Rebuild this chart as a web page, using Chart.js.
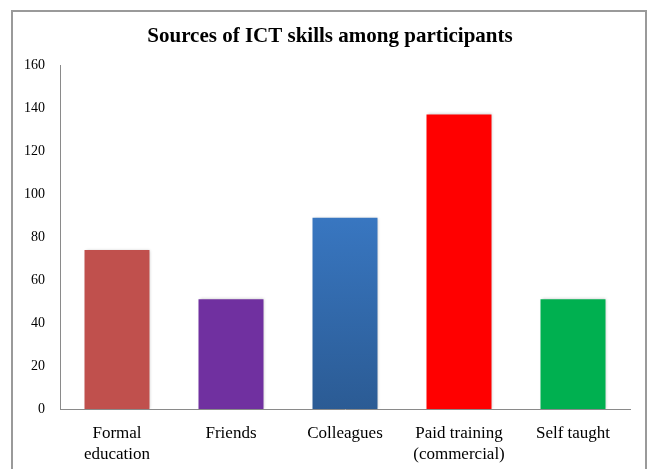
<!DOCTYPE html>
<html lang="en">
<head>
  <meta charset="UTF-8" />
  <title>Sources of ICT skills</title>
  <script src="https://cdn.jsdelivr.net/npm/chart.js"></script>
  <style>
    html, body { margin: 0; padding: 0; background: #fff; }
    #wrap { width: 648px; height: 469px; position: relative; }
  </style>
</head>
<body>
  <div id="wrap"><canvas id="ictChart" width="648" height="469"></canvas></div>

  <script>
    // data
    const categories = [['Formal', 'education'], 'Friends', 'Colleagues', ['Paid training', '(commercial)'], 'Self taught'];
    const counts = [74, 51, 89, 137, 51];
    const barColors = ['#c0504d', '#7030a0', null, '#ff0000', '#00b050'];
    const yTicks = { min: 0, max: 160, step: 20 };
    const chartTitle = 'Sources of ICT skills among participants';

    const serif = '"Liberation Serif", "Times New Roman", serif';

    // outer frame like the exported picture (no bottom edge) + title centred in it
    const framePlugin = {
      id: 'frame',
      afterDraw(chart) {
        const c = chart.ctx;
        c.save();
        c.strokeStyle = '#9a9a9a';
        c.lineWidth = 2;
        c.beginPath();
        c.moveTo(12, 469);
        c.lineTo(12, 11);
        c.lineTo(646, 11);
        c.lineTo(646, 469);
        c.stroke();

        c.fillStyle = '#000';
        c.font = 'bold 21px ' + serif;
        c.textAlign = 'center';
        c.textBaseline = 'middle';
        c.fillText(chartTitle, 330, 37);
        c.restore();
      }
    };

    // soft shadow on bars
    const shadowPlugin = {
      id: 'barShadow',
      beforeDatasetDraw(chart) {
        const c = chart.ctx;
        c.save();
        c.shadowColor = 'rgba(0,0,0,0.25)';
        c.shadowBlur = 3;
        c.shadowOffsetX = 1;
        c.shadowOffsetY = 0;
      },
      afterDatasetDraw(chart) {
        chart.ctx.restore();
      }
    };

    function barColor(context) {
      const i = context.dataIndex;
      if (barColors[i]) return barColors[i];
      const area = context.chart.chartArea;
      if (!area) return '#3b7dcc';
      const g = context.chart.ctx.createLinearGradient(0, area.top + 100, 0, area.bottom);
      g.addColorStop(0, '#3c7ecd');
      g.addColorStop(1, '#2b5b94');
      return g;
    }

    new Chart(document.getElementById('ictChart'), {
      type: 'bar',
      data: {
        labels: categories,
        datasets: [{
          data: counts,
          backgroundColor: barColor,
          borderWidth: 0,
          barPercentage: 0.57,
          categoryPercentage: 1
        }]
      },
      options: {
        responsive: false,
        animation: false,
        layout: { padding: { left: 0, right: 18, top: 65, bottom: 0 } },
        plugins: {
          legend: { display: false },
          tooltip: { enabled: false },
          title: { display: false }
        },
        scales: {
          x: {
            grid: { display: false, drawTicks: false },
            border: { display: true, color: '#8a8a8a', width: 1 },
            ticks: {
              color: '#000',
              font: { family: serif, size: 17, lineHeight: 1.18 },
              padding: 15,
              maxRotation: 0,
              autoSkip: false
            },
            afterFit(scale) { scale.height = 60; }
          },
          y: {
            min: yTicks.min,
            max: yTicks.max,
            grid: { display: false, drawTicks: false },
            border: { display: true, color: '#8a8a8a', width: 1 },
            ticks: {
              stepSize: yTicks.step,
              color: '#000',
              font: { family: serif, size: 14 },
              padding: 15
            },
            afterFit(scale) { scale.width = 60; }
          }
        }
      },
      plugins: [shadowPlugin, framePlugin]
    });
  </script>
</body>
</html>
